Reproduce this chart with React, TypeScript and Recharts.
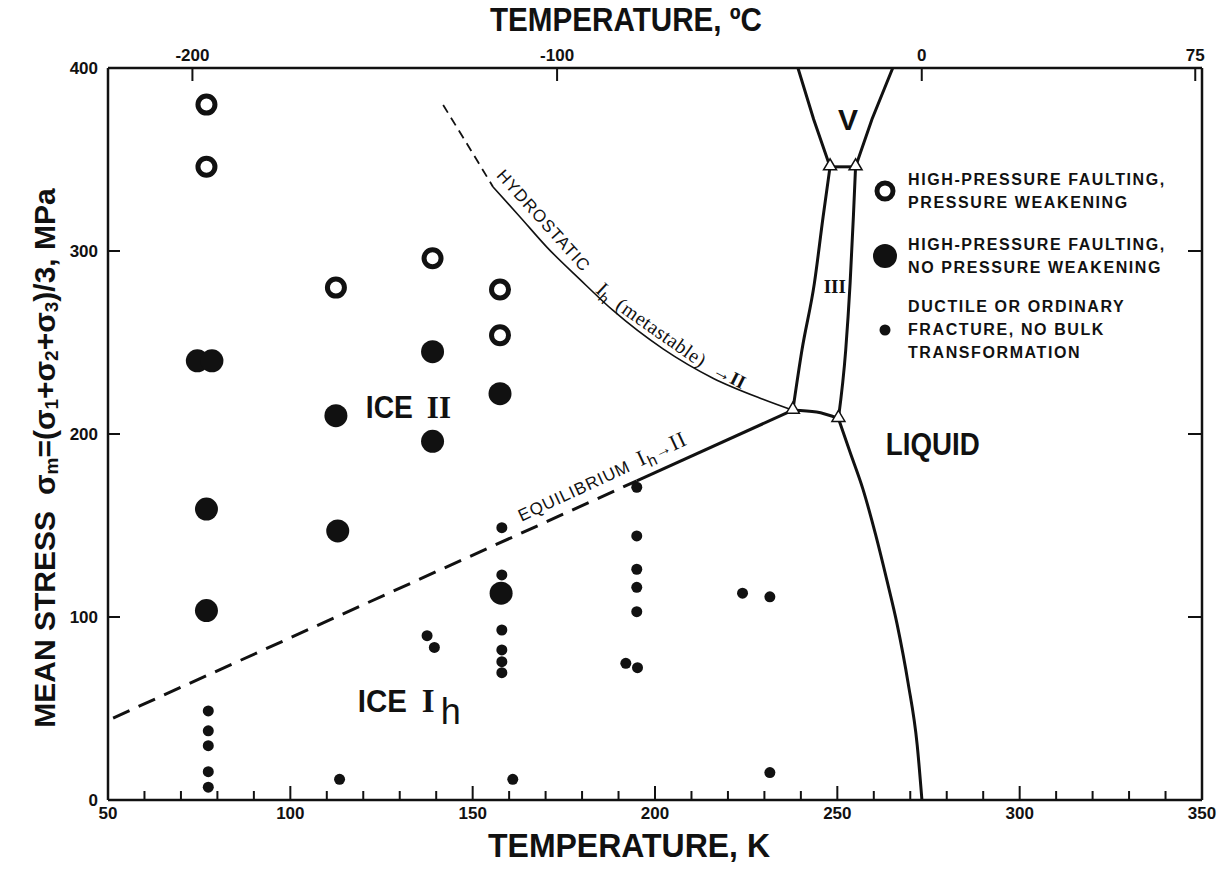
import React from "react";
import { ComposedChart, Line, Scatter, XAxis, YAxis, ReferenceDot, Legend, Label } from "recharts";

const SANS = '"Liberation Sans", Arial, Helvetica, sans-serif';
const SERIF = '"Liberation Serif", "Times New Roman", serif';
const INK = "#111";

// axis ticks
const kelvinTicks = [50, 60, 70, 80, 90, 100, 110, 120, 130, 140, 150, 160, 170, 180, 190, 200, 210, 220, 230, 240, 250, 260, 270, 280, 290, 300, 310, 320, 330, 340, 350];
const kelvinLabelled = [50, 100, 150, 200, 250, 300, 350];
const celsiusTicks = [-200, -100, 0, 75];
const stressTicks = [0, 100, 200, 300, 400];
const stressInner = [100, 200, 300];

type Pt = { t: number; s: number };

// test results: temperature (K) vs mean stress (MPa)
const pressureWeakening: Pt[] = [
  { t: 77, s: 380 }, { t: 77, s: 346 }, { t: 112.5, s: 280 },
  { t: 139, s: 296 }, { t: 157.5, s: 279 }, { t: 157.5, s: 254 },
];
const noWeakening: Pt[] = [
  { t: 74.5, s: 240 }, { t: 78.5, s: 240 }, { t: 77, s: 159 }, { t: 77, s: 103.5 },
  { t: 112.5, s: 210 }, { t: 113, s: 147 }, { t: 139, s: 245 }, { t: 139, s: 196 },
  { t: 157.5, s: 222 }, { t: 157.8, s: 113 },
];
const ductile: Pt[] = [
  { t: 77.5, s: 48.7 }, { t: 77.5, s: 37.8 }, { t: 77.5, s: 29.7 }, { t: 77.5, s: 15.5 }, { t: 77.5, s: 7 },
  { t: 113.5, s: 11.3 }, { t: 137.5, s: 89.8 }, { t: 139.5, s: 83.4 },
  { t: 158, s: 148.8 }, { t: 158, s: 123 }, { t: 158, s: 92.9 }, { t: 158, s: 82 }, { t: 158, s: 75.6 }, { t: 158, s: 69.6 },
  { t: 161, s: 11.3 },
  { t: 195, s: 170.9 }, { t: 195, s: 144.3 }, { t: 195, s: 126.1 }, { t: 195, s: 116.2 }, { t: 195, s: 102.9 },
  { t: 192, s: 74.7 }, { t: 195.2, s: 72.3 },
  { t: 224, s: 113 }, { t: 231.5, s: 111 }, { t: 231.5, s: 15 },
];

// phase boundaries
const ihIIDashed: Pt[] = [{ t: 51.4, s: 44.8 }, { t: 195, s: 174.4 }];
const ihIISolid: Pt[] = [{ t: 195, s: 174.4 }, { t: 237.8, s: 213 }];
const hydroDashed: Pt[] = [{ t: 141.9, s: 379.8 }, { t: 147.3, s: 362.3 }, { t: 155.6, s: 335 }];
const hydroSolid: Pt[] = [
  { t: 155.6, s: 335 }, { t: 163, s: 318.6 }, { t: 170.4, s: 302 }, { t: 179.4, s: 284.5 },
  { t: 188.5, s: 267.5 }, { t: 202.2, s: 246.5 }, { t: 215.9, s: 230.5 }, { t: 229.6, s: 219 }, { t: 237.8, s: 213 },
];
const ihIII: Pt[] = [{ t: 237.8, s: 213 }, { t: 244.3, s: 212 }, { t: 250.3, s: 208.5 }];
const ihMelting: Pt[] = [
  { t: 250.3, s: 208.5 }, { t: 253.5, s: 190 }, { t: 257, s: 170 }, { t: 260.5, s: 145 },
  { t: 263.6, s: 120 }, { t: 266.4, s: 96 }, { t: 269.4, s: 64 }, { t: 271.9, s: 30 }, { t: 273.2, s: 0 },
];
const iiIII: Pt[] = [{ t: 237.8, s: 213 }, { t: 240.3, s: 245.9 }, { t: 243.7, s: 282.3 }, { t: 246.1, s: 318.7 }, { t: 248, s: 346 }];
const iiiLiquid: Pt[] = [{ t: 250.3, s: 208.5 }, { t: 252.3, s: 245.9 }, { t: 253.5, s: 282.3 }, { t: 254.4, s: 318.7 }, { t: 255, s: 346 }];
const iiiV: Pt[] = [{ t: 248, s: 346 }, { t: 255, s: 346 }];
const iiV: Pt[] = [{ t: 248, s: 346 }, { t: 243.5, s: 372 }, { t: 239.2, s: 400 }];
const vLiquid: Pt[] = [{ t: 255, s: 346 }, { t: 259.5, s: 372 }, { t: 265.2, s: 400 }];
const triplePoints: Pt[] = [{ t: 237.8, s: 213 }, { t: 250.3, s: 208.5 }, { t: 248, s: 346 }, { t: 255, s: 346 }];

const legendRows = [
  { key: "ring", lines: ["HIGH-PRESSURE FAULTING,", "PRESSURE WEAKENING"] },
  { key: "big", lines: ["HIGH-PRESSURE FAULTING,", "NO PRESSURE WEAKENING"] },
  { key: "small", lines: ["DUCTILE OR ORDINARY", "FRACTURE, NO BULK", "TRANSFORMATION"] },
];

const Ring = (p: any) => <circle cx={p.cx} cy={p.cy} r={8.5} fill="#fff" stroke={INK} strokeWidth={5} />;
const BigDot = (p: any) => <circle cx={p.cx} cy={p.cy} r={11.5} fill={INK} />;
const SmallDot = (p: any) => <circle cx={p.cx} cy={p.cy} r={5.5} fill={INK} />;
const Hidden = () => <g />;
const Triangle = (p: any) => (
  <polygon
    points={`${p.cx},${p.cy - 8} ${p.cx - 6.5},${p.cy + 3} ${p.cx + 6.5},${p.cy + 3}`}
    fill="#fff"
    stroke={INK}
    strokeWidth={1.5}
  />
);

const tickFont = { fontFamily: SANS, fontSize: 17, fontWeight: 700, fill: INK };

const BottomTick = ({ x, y, payload }: any) => {
  const major = kelvinLabelled.includes(payload.value);
  const edge = payload.value === 50 || payload.value === 350;
  return (
    <g>
      {!edge && <line x1={x} x2={x} y1={y} y2={y - (major ? 14 : 9)} stroke={INK} strokeWidth={2} />}
      {major && (
        <text x={x} y={y + 19} textAnchor="middle" {...tickFont}>
          {payload.value}
        </text>
      )}
    </g>
  );
};

const TopTick = ({ x, y, payload }: any) => (
  <g>
    <line x1={x} x2={x} y1={y} y2={y + 13} stroke={INK} strokeWidth={2} />
    <text x={x} y={y - 7} textAnchor="middle" {...tickFont}>
      {Math.round(payload.value - 273.15)}
    </text>
  </g>
);

const LeftTick = ({ x, y, payload }: any) => (
  <g>
    {stressInner.includes(payload.value) && <line x1={x} x2={x + 12} y1={y} y2={y} stroke={INK} strokeWidth={2} />}
    <text x={x - 10} y={y + 6} textAnchor="end" {...tickFont}>
      {payload.value}
    </text>
  </g>
);

const RightTick = ({ x, y }: any) => <line x1={x} x2={x - 14} y1={y} y2={y} stroke={INK} strokeWidth={2} />;

const titleFont = { fontFamily: SANS, fontWeight: 700, fill: INK };

const BottomTitle = ({ viewBox }: any) => (
  <text
    x={viewBox.x + viewBox.width / 2 - 26}
    y={viewBox.y + 57}
    textAnchor="middle"
    fontSize={33}
    textLength={282}
    lengthAdjust="spacingAndGlyphs"
    {...titleFont}
  >
    TEMPERATURE, K
  </text>
);

const TopTitle = ({ viewBox }: any) => (
  <text
    x={viewBox.x + viewBox.width / 2 - 29}
    y={viewBox.y + 31}
    textAnchor="middle"
    fontSize={33}
    textLength={272}
    lengthAdjust="spacingAndGlyphs"
    {...titleFont}
  >
    TEMPERATURE, ºC
  </text>
);

const LeftTitle = ({ viewBox }: any) => {
  const cx = viewBox.x + 36;
  const cy = viewBox.y + viewBox.height / 2 + 24;
  return (
    <text
      transform={`rotate(-90 ${cx} ${cy})`}
      x={cx}
      y={cy}
      textAnchor="middle"
      dominantBaseline="central"
      fontSize={30}
      {...titleFont}
    >
      <tspan>MEAN STRESS</tspan>
      <tspan dx={16}>σ</tspan>
      <tspan dy={7} fontSize={19}>m</tspan>
      <tspan dy={-7}>=(</tspan>
      <tspan>σ</tspan>
      <tspan dy={7} fontSize={19}>1</tspan>
      <tspan dy={-7}>+</tspan>
      <tspan>σ</tspan>
      <tspan dy={7} fontSize={19}>2</tspan>
      <tspan dy={-7}>+</tspan>
      <tspan>σ</tspan>
      <tspan dy={7} fontSize={19}>3</tspan>
      <tspan dy={-7}>)/3, MPa</tspan>
    </text>
  );
};

// draw an annotation anchored at a data point
const note = (draw: (x: number, y: number) => React.ReactElement) => (props: any) => draw(props.viewBox.x, props.viewBox.y);

const curveFont = { fontFamily: SANS, fontSize: 17, fill: INK, letterSpacing: 1 };

const LegendBox = () => (
  <div style={{ fontFamily: SANS, fontWeight: 700, fontSize: 16, letterSpacing: 1.6, color: INK }}>
    {legendRows.map((row, i) => (
      <div key={row.key} style={{ display: "flex", alignItems: "center", marginBottom: i === 0 ? 19 : 16 }}>
        <svg width={30} height={30}>
          {row.key === "ring" && <circle cx={15} cy={15} r={8} fill="#fff" stroke={INK} strokeWidth={5} />}
          {row.key === "big" && <circle cx={15} cy={15} r={12} fill={INK} />}
          {row.key === "small" && <circle cx={15} cy={15} r={5.5} fill={INK} />}
        </svg>
        <div style={{ marginLeft: 8, lineHeight: "23px" }}>
          {row.lines.map((l) => (
            <div key={l}>{l}</div>
          ))}
        </div>
      </div>
    ))}
  </div>
);

const lineProps = {
  xAxisId: "k",
  yAxisId: "s",
  dataKey: "s",
  dot: false,
  activeDot: false,
  stroke: INK,
  isAnimationActive: false,
  legendType: "none" as const,
};

export default function App() {
  return (
    <div style={{ background: "#fff", marginTop: -8 }}>
      <ComposedChart width={1213} height={869} margin={{ top: 0, right: 0, bottom: 0, left: 0 }}>
        <XAxis
          xAxisId="k"
          dataKey="t"
          type="number"
          domain={[50, 350]}
          allowDataOverflow
          ticks={kelvinTicks}
          interval={0}
          tickLine={false}
          tickSize={0}
          tickMargin={0}
          height={69}
          axisLine={{ stroke: INK, strokeWidth: 2.5 }}
          tick={<BottomTick />}
        >
          <Label content={<BottomTitle />} />
        </XAxis>
        <XAxis
          xAxisId="c"
          dataKey="t"
          orientation="top"
          type="number"
          domain={[50, 350]}
          allowDataOverflow
          ticks={celsiusTicks.map((c) => c + 273.15)}
          interval={0}
          tickLine={false}
          tickSize={0}
          tickMargin={0}
          height={68}
          axisLine={{ stroke: INK, strokeWidth: 2.5 }}
          tick={<TopTick />}
        >
          <Label content={<TopTitle />} />
        </XAxis>
        <YAxis
          yAxisId="s"
          dataKey="s"
          type="number"
          domain={[0, 400]}
          allowDataOverflow
          ticks={stressTicks}
          interval={0}
          tickLine={false}
          tickSize={0}
          tickMargin={0}
          width={100}
          axisLine={{ stroke: INK, strokeWidth: 2.5 }}
          tick={<LeftTick />}
        >
          <Label content={<LeftTitle />} />
        </YAxis>
        <YAxis
          yAxisId="r"
          orientation="right"
          type="number"
          domain={[0, 400]}
          allowDataOverflow
          ticks={stressInner}
          interval={0}
          tickLine={false}
          tickSize={0}
          tickMargin={0}
          width={19}
          axisLine={{ stroke: INK, strokeWidth: 2.5 }}
          tick={<RightTick />}
        />

        {/* keeps the celsius axis tied to the same temperature range */}
        <Scatter xAxisId="c" yAxisId="s" dataKey="s" data={triplePoints} shape={Hidden} isAnimationActive={false} legendType="none" />

        <Line {...lineProps} data={ihIIDashed} type="linear" strokeWidth={3} strokeDasharray="18 10" />
        <Line {...lineProps} data={ihIISolid} type="linear" strokeWidth={3} />
        <Line {...lineProps} data={hydroDashed} type="monotone" strokeWidth={1.8} strokeDasharray="9 6" />
        <Line {...lineProps} data={hydroSolid} type="monotone" strokeWidth={1.6} />
        <Line {...lineProps} data={ihIII} type="monotone" strokeWidth={3} />
        <Line {...lineProps} data={ihMelting} type="monotone" strokeWidth={3} />
        <Line {...lineProps} data={iiIII} type="monotone" strokeWidth={3} />
        <Line {...lineProps} data={iiiLiquid} type="monotone" strokeWidth={3} />
        <Line {...lineProps} data={iiiV} type="linear" strokeWidth={3} />
        <Line {...lineProps} data={iiV} type="linear" strokeWidth={3} />
        <Line {...lineProps} data={vLiquid} type="linear" strokeWidth={3} />

        <Scatter name="HIGH-PRESSURE FAULTING, PRESSURE WEAKENING" xAxisId="k" yAxisId="s" dataKey="s" data={pressureWeakening} shape={Ring} isAnimationActive={false} />
        <Scatter name="HIGH-PRESSURE FAULTING, NO PRESSURE WEAKENING" xAxisId="k" yAxisId="s" dataKey="s" data={noWeakening} shape={BigDot} isAnimationActive={false} />
        <Scatter name="DUCTILE OR ORDINARY FRACTURE, NO BULK TRANSFORMATION" xAxisId="k" yAxisId="s" dataKey="s" data={ductile} shape={SmallDot} isAnimationActive={false} />
        <Scatter xAxisId="k" yAxisId="s" dataKey="s" data={triplePoints} shape={Triangle} isAnimationActive={false} legendType="none" />

        {/* region and boundary names */}
        <ReferenceDot xAxisId="k" yAxisId="s" x={120.7} y={208.7} r={0} fill="none" stroke="none" label={note((x, y) => (
          <text x={x} y={y} fill={INK}>
            <tspan fontFamily={SANS} fontWeight={700} fontSize={32} textLength={47} lengthAdjust="spacingAndGlyphs">ICE</tspan>
            <tspan dx={14} fontFamily={SERIF} fontWeight={700} fontSize={31}>II</tspan>
          </text>
        ))} />
        <ReferenceDot xAxisId="k" yAxisId="s" x={118.5} y={48.1} r={0} fill="none" stroke="none" label={note((x, y) => (
          <text x={x} y={y} fill={INK}>
            <tspan fontFamily={SANS} fontWeight={700} fontSize={32} textLength={49} lengthAdjust="spacingAndGlyphs">ICE</tspan>
            <tspan dx={15} fontFamily={SERIF} fontWeight={700} fontSize={33}>I</tspan>
            <tspan dx={6} dy={12} fontFamily={SANS} fontSize={36}>h</tspan>
          </text>
        ))} />
        <ReferenceDot xAxisId="k" yAxisId="s" x={263.3} y={188.5} r={0} fill="none" stroke="none" label={note((x, y) => (
          <text x={x} y={y} fill={INK} fontFamily={SANS} fontWeight={700} fontSize={32} textLength={94} lengthAdjust="spacingAndGlyphs">
            LIQUID
          </text>
        ))} />
        <ReferenceDot xAxisId="k" yAxisId="s" x={252.9} y={366} r={0} fill="none" stroke="none" label={note((x, y) => (
          <text x={x} y={y} fill={INK} fontFamily={SANS} fontWeight={700} fontSize={30} textAnchor="middle">
            V
          </text>
        ))} />
        <ReferenceDot xAxisId="k" yAxisId="s" x={249.3} y={277} r={0} fill="none" stroke="none" label={note((x, y) => (
          <text x={x} y={y} fill={INK} fontFamily={SERIF} fontWeight={700} fontSize={19} textAnchor="middle">
            III
          </text>
        ))} />
        <ReferenceDot xAxisId="k" yAxisId="s" x={163.4} y={152} r={0} fill="none" stroke="none" label={note((x, y) => (
          <text x={x} y={y} transform={`rotate(-25 ${x} ${y})`} {...curveFont}>
            <tspan>EQUILIBRIUM</tspan>
            <tspan dx={10} fontFamily={SERIF} fontSize={22}>I</tspan>
            <tspan fontSize={16} dy={5}>h</tspan>
            <tspan dy={-5}>→</tspan>
            <tspan fontFamily={SERIF} fontSize={22}>II</tspan>
          </text>
        ))} />
        <ReferenceDot xAxisId="k" yAxisId="s" x={169.4} y={316.5} r={0} fill="none" stroke="none" label={note((x, y) => (
          <text x={x} y={y} transform={`rotate(48 ${x} ${y})`} textAnchor="middle" dominantBaseline="central" {...curveFont}>
            HYDROSTATIC
          </text>
        ))} />
        <ReferenceDot xAxisId="k" yAxisId="s" x={186.3} y={277.8} r={0} fill="none" stroke="none" label={note((x, y) => (
          <text x={x} y={y} transform={`rotate(43 ${x} ${y})`} textAnchor="middle" dominantBaseline="central" fill={INK}>
            <tspan fontFamily={SERIF} fontSize={21}>I</tspan>
            <tspan fontFamily={SANS} fontSize={15} dy={5}>h</tspan>
          </text>
        ))} />
        <ReferenceDot xAxisId="k" yAxisId="s" x={201.8} y={255.5} r={0} fill="none" stroke="none" label={note((x, y) => (
          <text x={x} y={y} transform={`rotate(35 ${x} ${y})`} textAnchor="middle" dominantBaseline="central" fill={INK} fontFamily={SERIF} fontSize={20} letterSpacing={0.5}>
            (metastable)
          </text>
        ))} />
        <ReferenceDot xAxisId="k" yAxisId="s" x={220.5} y={232} r={0} fill="none" stroke="none" label={note((x, y) => (
          <text x={x} y={y} transform={`rotate(27 ${x} ${y})`} textAnchor="middle" dominantBaseline="central" fill={INK} fontFamily={SERIF} fontSize={19}>
            <tspan>→</tspan>
            <tspan fontWeight={700}>II</tspan>
          </text>
        ))} />

        <Legend
          layout="vertical"
          align="center"
          verticalAlign="middle"
          content={<LegendBox />}
          wrapperStyle={{ left: 862, top: 168, width: 340 }}
        />
      </ComposedChart>
    </div>
  );
}
